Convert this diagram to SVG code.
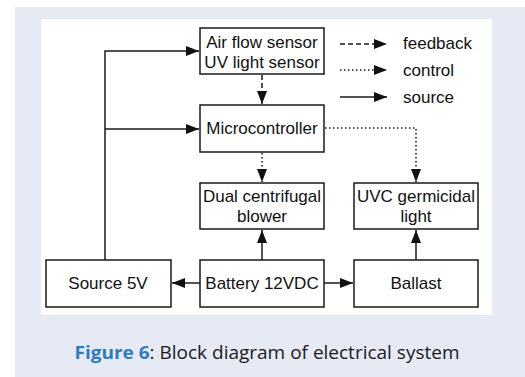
<svg xmlns="http://www.w3.org/2000/svg" width="525" height="377" viewBox="0 0 525 377">
<style>
.box{fill:#fff;stroke:#1a1a1a;stroke-width:1.5}
.t{font-family:"Liberation Sans",Arial,sans-serif;font-size:17px;fill:#111;text-anchor:middle}
.lt{font-family:"Liberation Sans",Arial,sans-serif;font-size:17px;fill:#111}
.c{fill:none;stroke:#1a1a1a;stroke-width:1.5}
.dash{stroke-dasharray:5,3}
.dot{stroke-dasharray:1.5,2.5}
.cap{font-family:"Open Sans","Noto Sans",sans-serif;font-size:18.5px;fill:#1a1a1a;text-anchor:middle}
</style>
<defs>
<marker id="ah" markerUnits="userSpaceOnUse" markerWidth="14" markerHeight="10" refX="13" refY="5" orient="auto">
<path d="M0,0 L13,5 L0,10 Z" fill="#111"/>
</marker>
</defs>
<rect x="15" y="7" width="510" height="370" fill="#e6eaf5"/>
<rect x="41" y="19" width="451" height="296" fill="#fff"/>

<g id="connectors">
<polyline class="c" points="105,260 105,51 199,51" marker-end="url(#ah)"/>
<line class="c" x1="105" y1="129" x2="199" y2="129" marker-end="url(#ah)"/>
<line class="c dash" x1="262" y1="75" x2="262" y2="104" marker-end="url(#ah)"/>
<line class="c dot" x1="262" y1="153" x2="262" y2="182" marker-end="url(#ah)"/>
<polyline class="c dot" points="325,128 416,128 416,182" marker-end="url(#ah)"/>
<line class="c" x1="262" y1="260" x2="262" y2="230" marker-end="url(#ah)"/>
<line class="c" x1="416" y1="260" x2="416" y2="230" marker-end="url(#ah)"/>
<line class="c" x1="200" y1="283" x2="172" y2="283" marker-end="url(#ah)"/>
<line class="c" x1="324" y1="283" x2="353" y2="283" marker-end="url(#ah)"/>
</g>

<g id="legend">
<line class="c dash" x1="340" y1="44" x2="387" y2="44" marker-end="url(#ah)"/>
<line class="c dot" x1="340" y1="70" x2="387" y2="70" marker-end="url(#ah)"/>
<line class="c" x1="340" y1="97" x2="387" y2="97" marker-end="url(#ah)"/>
<text class="lt" x="403" y="49">feedback</text>
<text class="lt" x="403" y="76">control</text>
<text class="lt" x="403" y="103">source</text>
</g>

<g id="sensors">
<rect class="box" x="200" y="28" width="124" height="46"/>
<text class="t" x="262" y="48">Air flow sensor</text>
<text class="t" x="262" y="68">UV light sensor</text>
</g>
<g id="microcontroller">
<rect class="box" x="200" y="105" width="124" height="47"/>
<text class="t" x="262" y="134">Microcontroller</text>
</g>
<g id="blower">
<rect class="box" x="200" y="183" width="124" height="46"/>
<text class="t" x="262" y="202">Dual centrifugal</text>
<text class="t" x="262" y="222">blower</text>
</g>
<g id="uvc">
<rect class="box" x="354" y="183" width="124" height="46"/>
<text class="t" x="416" y="202">UVC germicidal</text>
<text class="t" x="416" y="222">light</text>
</g>
<g id="source5v">
<rect class="box" x="46" y="260" width="125" height="47"/>
<text class="t" x="108" y="289">Source 5V</text>
</g>
<g id="battery">
<rect class="box" x="200" y="260" width="124" height="47"/>
<text class="t" x="262" y="289">Battery 12VDC</text>
</g>
<g id="ballast">
<rect class="box" x="354" y="260" width="124" height="47"/>
<text class="t" x="416" y="289">Ballast</text>
</g>

<text class="cap" x="267" y="359" textLength="385" lengthAdjust="spacingAndGlyphs"><tspan font-weight="bold" fill="#2e7bbf">Figure 6</tspan>: Block diagram of electrical system</text>
</svg>
